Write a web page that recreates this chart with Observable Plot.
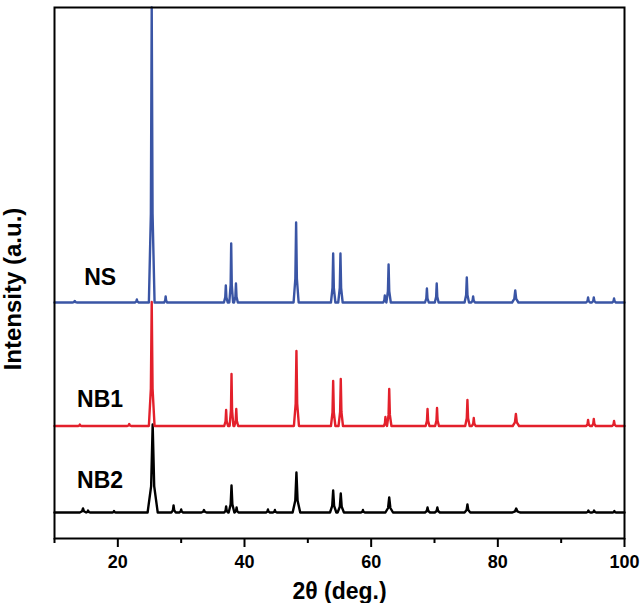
<!DOCTYPE html>
<html><head><meta charset="utf-8">
<script src="https://cdn.jsdelivr.net/npm/d3@7"></script>
<script src="https://cdn.jsdelivr.net/npm/@observablehq/plot@0.6"></script>
<style>body{margin:0;background:#fff} #chart svg{display:block}</style>
</head><body><div id="chart"></div>
<script>
// Series (drawn bottom to top)
const series = ["NB2", "NB1", "NS"];
const colors = ["#000000", "#e3202b", "#3a55a5"];
// vertical stacking offsets (a.u.)
const offsets = [52, 225, 472];
// label positions [2θ, a.u.]
const labelX = [17.2, 17.2, 17.2];
const labelY = [115, 277, 522];
// x-axis ticks
const majorTicks = [20, 40, 60, 80, 100];
const minorTicks = [10, 30, 50, 70, 90];
// peaks: [2θ (deg), height above baseline (a.u.), half-width at base (deg)]
const peaksNB2 = [[14.5,8,0.5],[15.3,4,0.3],[19.4,3,0.3],[25.5,176,0.8],[28.8,14,0.35],[30.0,6,0.3],[33.6,5,0.4],[37.1,12,0.3],[37.95,54,0.45],[38.75,10,0.3],[43.7,6,0.3],[44.8,5,0.3],[48.2,80,0.6],[54.0,44,0.5],[55.2,38,0.5],[58.7,5,0.3],[62.85,30,0.6],[68.9,10,0.4],[70.45,10,0.4],[75.2,16,0.45],[82.9,8,0.6],[94.3,4,0.3],[95.2,4,0.3],[98.4,3,0.3]];
const peaksNB1 = [[14.0,3,0.3],[21.8,4,0.3],[25.35,248,0.45],[37.1,32,0.3],[37.95,104,0.3],[38.7,34,0.3],[48.2,150,0.4],[54.0,90,0.35],[55.2,94,0.35],[62.25,18,0.25],[62.85,74,0.35],[68.9,34,0.3],[70.4,36,0.3],[75.2,52,0.35],[76.2,16,0.3],[82.85,24,0.5],[94.25,12,0.3],[95.15,14,0.3],[98.35,10,0.3]];
const peaksNS = [[13.2,3,0.4],[23.0,6,0.3],[25.35,590,0.45],[27.55,12,0.25],[37.05,34,0.3],[37.9,118,0.3],[38.65,38,0.3],[48.15,160,0.4],[54.0,98,0.35],[55.15,98,0.35],[62.15,14,0.25],[62.75,76,0.35],[68.8,28,0.3],[70.35,38,0.3],[75.1,50,0.35],[76.1,12,0.3],[82.75,24,0.5],[94.25,10,0.3],[95.15,10,0.3],[98.35,8,0.3]];
const peakSets = [peaksNB2, peaksNB1, peaksNS];

const rows = [];
series.forEach((s, i) => {
  const off = offsets[i];
  rows.push({series: s, x: 10, y: off});
  for (const [p, h, w] of peakSets[i]) {
    rows.push({series: s, x: p - w, y: off});
    rows.push({series: s, x: p - 0.3 * w, y: off + 0.3 * h});
    rows.push({series: s, x: p, y: off + h});
    rows.push({series: s, x: p + 0.3 * w, y: off + 0.3 * h});
    rows.push({series: s, x: p + w, y: off});
  }
  rows.push({series: s, x: 100, y: off});
});
const labels = series.map((s, i) => ({name: s, x: labelX[i], y: labelY[i]}));

const font = "'Liberation Sans', Arial, Helvetica, sans-serif";
const chart = Plot.plot({
  width: 640, height: 603,
  marginLeft: 54, marginRight: 16, marginTop: 7, marginBottom: 65,
  style: {fontFamily: font, background: "white", color: "black", overflow: "visible"},
  x: {domain: [10, 100]},
  y: {domain: [0, 1062], axis: null},
  color: {domain: series, range: colors},
  marks: [
    Plot.line(rows, {x: "x", y: "y", z: "series", stroke: "series", strokeWidth: 2.4, strokeLinejoin: "round"}),
    Plot.frame({stroke: "black", strokeWidth: 2}),
    Plot.axisX(majorTicks, {tickSize: 9, tickPadding: 8, fontSize: 18, fontWeight: "bold", strokeWidth: 2, label: null}),
    Plot.axisX(minorTicks, {tickSize: 5, tickFormat: () => "", strokeWidth: 2, label: null}),
    Plot.text(labels, {x: "x", y: "y", text: "name", fontSize: 23, fontWeight: "bold", fill: "black", lineAnchor: "middle"}),
    Plot.text(["Intensity (a.u.)"], {text: d => d, frameAnchor: "left", textAnchor: "middle", rotate: -90, dx: -41, dy: 16, fontSize: 24, fontWeight: "bold", fill: "black", lineAnchor: "middle"}),
    Plot.text(["2θ (deg.)"], {text: d => d, frameAnchor: "bottom", dy: 53, fontSize: 23, fontWeight: "bold", fill: "black", lineAnchor: "middle"})
  ]
});
document.getElementById("chart").appendChild(chart);
</script>
</body></html>
